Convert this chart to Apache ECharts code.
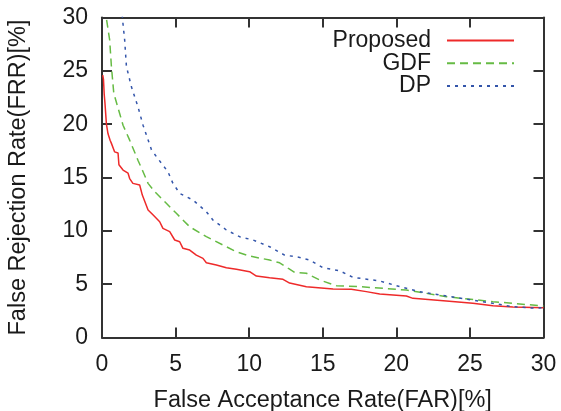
<!DOCTYPE html>
<html>
<head>
<meta charset="utf-8">
<script src="https://cdn.jsdelivr.net/npm/echarts@6/dist/echarts.min.js"></script>
<style>html,body{margin:0;padding:0;background:#fff;}#c{width:561px;height:411px;}</style>
</head>
<body>
<div id="c"></div>
<script>
const seriesNames = ['Proposed', 'GDF', 'DP'];
const xTicks = [0, 5, 10, 15, 20, 25, 30];
const yTicks = [0, 5, 10, 15, 20, 25, 30];

const farProposed = [0.05,0.1,0.15,0.2,0.3,0.41,0.55,0.64,0.86,1.09,1.15,1.43,1.77,1.88,2.1,2.56,2.74,3.13,3.46,3.92,4.14,4.6,4.94,5.28,5.5,5.96,6.41,6.86,7.09,7.77,8.45,9.13,10.03,10.49,11.39,12.3,12.75,13.89,15.7,16.94,17.96,18.87,20.68,21.13,23.4,25.2,26.56,27.92,30];
const frrProposed = [24.6,24.2,22.8,22.0,20.0,19.1,18.5,18.2,17.4,17.3,16.2,15.7,15.4,14.9,14.45,14.3,13.35,11.95,11.5,10.85,10.23,9.92,9.14,8.98,8.36,8.2,7.73,7.42,7.01,6.8,6.54,6.39,6.17,5.76,5.6,5.45,5.1,4.76,4.55,4.52,4.3,4.08,3.89,3.67,3.42,3.2,2.98,2.86,2.8];

const farGDF = [0.25,0.3,0.52,0.64,0.8,1.2,1.43,1.88,2.45,2.79,3.13,3.58,4.37,5.05,5.96,7.09,8.22,9.13,10.03,11.39,12.07,12.64,13.09,13.89,14.79,15.92,17.55,20.68,23.4,26.56,30];
const frrGDF = [31,29.9,27.9,25.4,22.9,21.0,19.9,18.5,16.6,15.54,14.45,13.67,12.58,11.64,10.38,9.45,8.67,8.04,7.64,7.26,7.0,6.5,6.11,6.02,5.39,4.86,4.76,4.45,3.83,3.36,2.95];

const farDP = [1.35,1.39,1.54,1.66,2.0,2.45,2.79,3.36,3.7,4.48,4.82,5.28,6.18,7.09,7.54,8.45,9.35,10.26,11.39,12.4,13.43,14.11,15.01,16.15,17.05,18.87,20.0,21.58,23.4,25.2,26.56,27.92,29.51,30];
const frrDP = [31,29.9,27.9,25.4,23.5,21.6,19.9,17.6,16.95,15.54,14.45,13.51,12.89,11.79,11.01,10.08,9.45,9.14,8.51,7.73,7.51,7.26,6.54,6.26,5.64,5.3,4.86,4.3,3.89,3.51,3.2,2.89,2.74,2.8];

function pairs(xs, ys) { return xs.map((x, i) => [x, ys[i]]); }

const FONT = 'Liberation Sans, Arial, sans-serif';
const TXT = '#1a1a1a';
const colors = ['#ee2a2a', '#66bb44', '#3355aa'];
const lineTypes = ['solid', [8, 5], [3, 5]];
const datasets = [pairs(farProposed, frrProposed), pairs(farGDF, frrGDF), pairs(farDP, frrDP)];

const axisCommon = {
  min: 0, max: 30, interval: 5,
  axisLine: { show: true, onZero: false, lineStyle: { color: '#333', width: 2 } },
  axisTick: { show: true, inside: true, length: 10, lineStyle: { color: '#333', width: 2 } },
  splitLine: { show: false }
};

const chart = echarts.init(document.getElementById('c'));
chart.setOption({
  animation: false,
  grid: { left: 102, right: 17.5, top: 17.5, bottom: 73.5, containLabel: false, outerBoundsMode: 'none' },
  xAxis: [
    Object.assign({}, axisCommon, {
      type: 'value', position: 'bottom',
      name: 'False Acceptance Rate(FAR)[%]', nameLocation: 'middle', nameGap: 51,
      nameTextStyle: { fontFamily: FONT, fontSize: 23.5, color: TXT },
      axisLabel: { margin: 16, fontFamily: FONT, fontSize: 23, color: TXT,
        formatter: v => xTicks.includes(v) ? String(v) : '' }
    }),
    Object.assign({}, axisCommon, { type: 'value', position: 'top', axisLabel: { show: false } })
  ],
  yAxis: [
    Object.assign({}, axisCommon, {
      type: 'value', position: 'left',
      name: 'False Rejection Rate(FRR)[%]', nameLocation: 'middle', nameGap: 71,
      nameTextStyle: { fontFamily: FONT, fontSize: 23.5, color: TXT },
      axisLabel: { margin: 14, fontFamily: FONT, fontSize: 23, color: TXT,
        formatter: v => yTicks.includes(v) ? String(v) : '' }
    }),
    Object.assign({}, axisCommon, { type: 'value', position: 'right', axisLabel: { show: false } })
  ],
  legend: seriesNames.map((n, i) => ({
    data: [n],
    right: 46,
    top: 29 + i * 22.7,
    align: 'right',
    itemWidth: 67,
    itemHeight: 10,
    padding: 0,
    selectedMode: false,
    itemStyle: { opacity: 0 },
    textStyle: { fontFamily: FONT, fontSize: 23, color: TXT, padding: [0, 11, 0, 0] }
  })),
  series: seriesNames.map((n, i) => ({
    name: n, type: 'line', data: datasets[i],
    showSymbol: false, symbol: 'none', clip: true,
    lineStyle: { color: colors[i], width: 1.5, type: lineTypes[i] },
    itemStyle: { color: colors[i] }
  }))
});
</script>
</body>
</html>
